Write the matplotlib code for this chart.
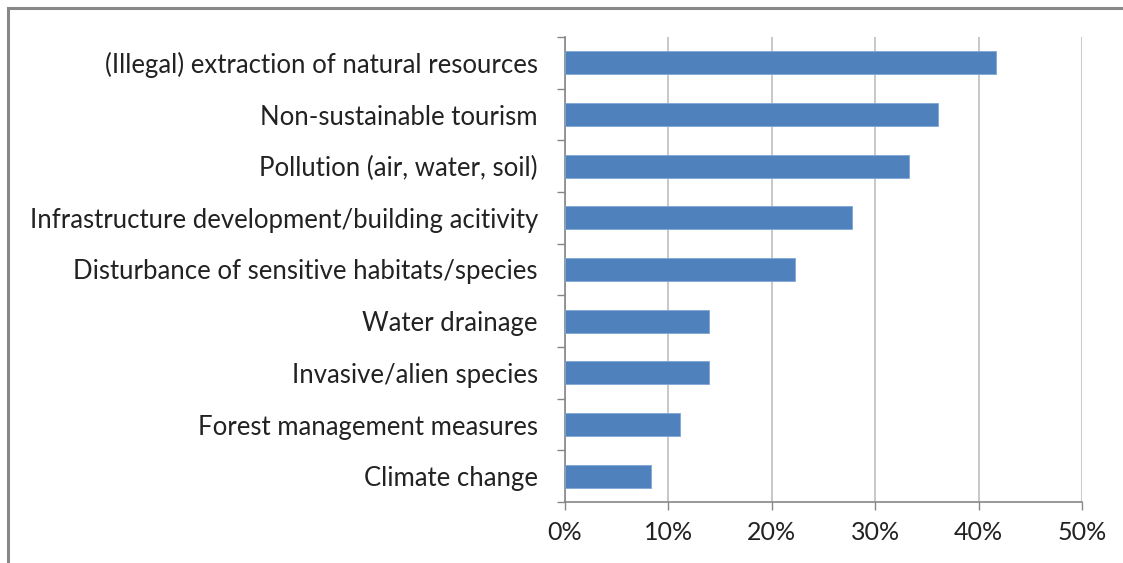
import matplotlib
matplotlib.use("Agg")
import matplotlib.pyplot as plt
from matplotlib.patches import Rectangle
from matplotlib.ticker import PercentFormatter, MultipleLocator, FixedLocator
import numpy as np

categories = [
    "(Illegal) extraction of natural resources",
    "Non-sustainable tourism",
    "Pollution (air, water, soil)",
    "Infrastructure development/building acitivity",
    "Disturbance of sensitive habitats/species",
    "Water drainage",
    "Invasive/alien species",
    "Forest management measures",
    "Climate change",
]
values = [41.7, 36.1, 33.3, 27.8, 22.2, 13.9, 13.9, 11.1, 8.3]

plt.rcParams['font.family'] = ['Lato', 'DejaVu Sans']

W, H = 1123, 563
fig = plt.figure(figsize=(W / 100, H / 100), dpi=100)
ax = fig.add_axes([565 / W, 1 - 502 / H, (1082 - 565) / W, (502 - 37) / H])

n = len(categories)
y = np.arange(n)
ax.barh(y, values, height=0.44, color="#4F81BD", edgecolor="#7FA6D6", linewidth=0.6, zorder=3)
ax.set_ylim(n - 0.5, -0.5)
ax.set_xlim(0, 50)

ax.set_yticks(y)
ax.set_yticklabels(categories, fontsize=18.5, color="#222222")
ax.yaxis.set_minor_locator(FixedLocator(np.arange(-0.5, n, 1)))
ax.tick_params(axis="y", which="major", length=0, pad=19.5)
ax.tick_params(axis="y", which="minor", length=6, color="#868686", width=1)

ax.xaxis.set_major_locator(MultipleLocator(10))
ax.xaxis.set_major_formatter(PercentFormatter(decimals=0))
ax.tick_params(axis="x", which="major", length=6, color="#868686", width=1, labelsize=18,
               labelcolor="#222222", pad=8)
ax.grid(axis="x", color="#BFBFBF", linewidth=1.2, zorder=0)

for s in ["top", "right"]:
    ax.spines[s].set_visible(False)
for s in ["left", "bottom"]:
    ax.spines[s].set_color("#868686")
    ax.spines[s].set_linewidth(1.2)

fig.patches.append(Rectangle((8 / W, -0.1), 1.2, 1 - 8 / H + 0.1, transform=fig.transFigure,
                             fill=False, edgecolor="#888888", linewidth=2.2))

fig.savefig("out.png", dpi=100, facecolor="white")
